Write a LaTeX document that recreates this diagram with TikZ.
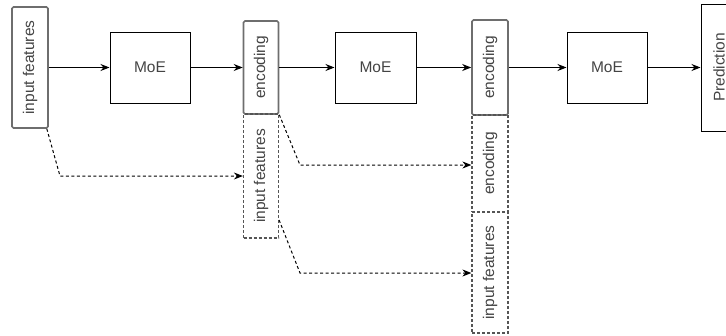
\documentclass[tikz,border=0pt]{standalone}
\usepackage{graphicx}
\usepackage{fontspec}
\setmainfont{Liberation Sans}
\usetikzlibrary{arrows.meta}
\definecolor{txtgray}{HTML}{444444}
\definecolor{boxgray}{HTML}{6E6E6E}
\definecolor{dashgray}{HTML}{555555}
\begin{document}
\begin{tikzpicture}[x = 1pt, y = 1pt,
    every node/.style = {text = txtgray, inner sep = 0pt,
      font = \fontsize{15.5}{18}\selectfont},
    moe box/.style = {draw = black, line width = 1pt},
    side box/.style = {draw = boxgray, line width = 1.6pt, rounded corners = 1.5pt},
    ghost box/.style = {draw = dashgray, line width = 1.2pt, dash pattern = on 3pt off 2pt},
    flow/.style = {-{Stealth[length = 9pt, width = 7pt]}, line width = 1pt},
    skip/.style = {flow, dash pattern = on 3pt off 2.5pt}]
      \useasboundingbox (0,0) rectangle (726,-335);
      \clip (0,0) rectangle (726,-335);
      % main row
      \node [side box, minimum width = 36pt, minimum height = 121pt]
        (in) at (30,-67.5) {\rotatebox{90}{input features}};
      \node [moe box, minimum width = 80pt, minimum height = 71pt]
        (moe1) at (150,-67.5) {MoE};
      \node [side box, minimum width = 35pt, minimum height = 93pt]
        (enc1) at (261,-67.5) {\rotatebox{90}{encoding}};
      \node [moe box, minimum width = 81pt, minimum height = 71pt]
        (moe2) at (375.5,-67.5) {MoE};
      \node [side box, minimum width = 36pt, minimum height = 95pt]
        (enc2) at (490,-67.5) {\rotatebox{90}{encoding}};
      \node [moe box, minimum width = 80pt, minimum height = 71pt]
        (moe3) at (607,-67.5) {MoE};
      \node [moe box, minimum width = 36pt, minimum height = 127pt]
        (pred) at (719,-67.5) {\rotatebox{90}{Prediction}};
      % carried copies
      \node [ghost box, minimum width = 35pt, minimum height = 124pt]
        (inf1) at (261,-176) {\rotatebox{90}{input features}};
      \node [ghost box, minimum width = 36pt, minimum height = 97pt]
        (enc2d) at (490,-163.5) {\rotatebox{90}{encoding}};
      \node [ghost box, minimum width = 36pt, minimum height = 121pt]
        (inf2) at (490,-272.5) {\rotatebox{90}{input features}};
      \draw [flow] (in) -- (moe1);
      \draw [flow] (moe1) -- (enc1);
      \draw [flow] (enc1) -- (moe2);
      \draw [flow] (moe2) -- (enc2);
      \draw [flow] (enc2) -- (moe3);
      \draw [flow] (moe3) -- (pred);
      % skip connections
      \coordinate (b1) at (60,-176);
      \coordinate (b2) at (300,-165);
      \coordinate (b3) at (300,-273);
      \draw [skip] ([xshift = -2pt]in.south east) -- (b1) -- (b1 -| inf1.west);
      \draw [skip] (enc1.south east) -- (b2) -- (b2 -| enc2d.west);
      \draw [skip] ([yshift = -44pt]inf1.east) -- (b3) -- (b3 -| inf2.west);
    \end{tikzpicture}
\end{document}
